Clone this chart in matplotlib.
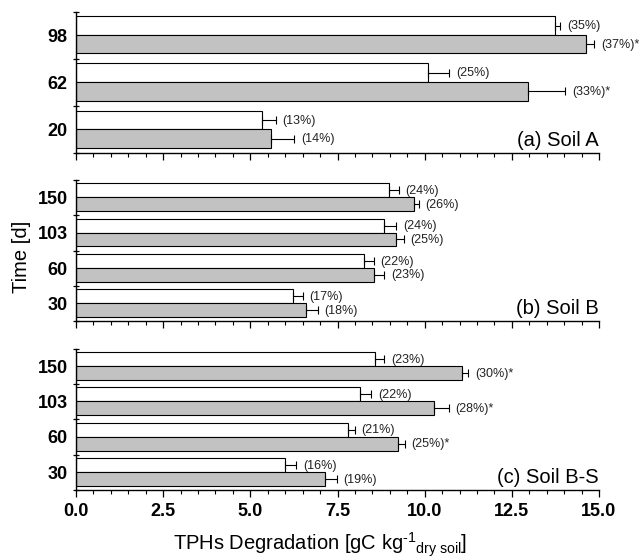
import matplotlib
matplotlib.use("Agg")
import matplotlib.pyplot as plt
from matplotlib.ticker import MultipleLocator, FixedLocator, NullFormatter
import numpy as np

plt.rcParams['font.family'] = ['Liberation Sans', 'DejaVu Sans']
plt.rcParams['mathtext.fontset'] = 'custom'
plt.rcParams['mathtext.rm'] = 'Liberation Sans'
plt.rcParams['mathtext.it'] = 'Liberation Sans:italic'
plt.rcParams['mathtext.bf'] = 'Liberation Sans:bold'

# ---------------- data ----------------
# Soil A
a_times = ["20", "62", "98"]
a_white = [5.34, 10.10, 13.74]
a_white_err = [0.39, 0.61, 0.15]
a_grey = [5.60, 12.96, 14.62]
a_grey_err = [0.66, 1.06, 0.24]
a_white_lbl = ["(13%)", "(25%)", "(35%)"]
a_grey_lbl = ["(14%)", "(33%)*", "(37%)*"]

# Soil B
b_times = ["30", "60", "103", "150"]
b_white = [6.23, 8.25, 8.83, 8.99]
b_white_err = [0.27, 0.29, 0.35, 0.26]
b_grey = [6.59, 8.55, 9.19, 9.69]
b_grey_err = [0.34, 0.28, 0.21, 0.14]
b_white_lbl = ["(17%)", "(22%)", "(24%)", "(24%)"]
b_grey_lbl = ["(18%)", "(23%)", "(25%)", "(26%)"]

# Soil B-S
c_times = ["30", "60", "103", "150"]
c_white = [5.99, 7.79, 8.14, 8.57]
c_white_err = [0.33, 0.20, 0.32, 0.26]
c_grey = [7.13, 9.24, 10.28, 11.08]
c_grey_err = [0.35, 0.19, 0.41, 0.17]
c_white_lbl = ["(16%)", "(21%)", "(22%)", "(23%)"]
c_grey_lbl = ["(19%)", "(25%)*", "(28%)*", "(30%)*"]

panel_titles = ["(a) Soil A", "(b) Soil B", "(c) Soil B-S"]
x_ticks = [0.0, 2.5, 5.0, 7.5, 10.0, 12.5, 15.0]

GREY = '#c2c2c2'
W, H = 642, 560
fig = plt.figure(figsize=(W / 100, H / 100), dpi=100)

left = 76 / W
width = 523 / W
rects = [
    (left, 1 - 153.3 / H, width, 141.6 / H),
    (left, 1 - 321.0 / H, width, 141.0 / H),
    (left, 1 - 490.0 / H, width, 141.5 / H),
]

panels = [
    (a_times, a_white, a_white_err, a_grey, a_grey_err, a_white_lbl, a_grey_lbl),
    (b_times, b_white, b_white_err, b_grey, b_grey_err, b_white_lbl, b_grey_lbl),
    (c_times, c_white, c_white_err, c_grey, c_grey_err, c_white_lbl, c_grey_lbl),
]

bh = 0.395
mid = 0.51

for i, (rect, pdata, title) in enumerate(zip(rects, panels, panel_titles)):
    times, wv, we, gv, ge, wl, gl = pdata
    ax = fig.add_axes(rect)
    n = len(times)
    pos = np.arange(n)
    yw = pos + mid + bh / 2
    yg = pos + mid - bh / 2
    ax.barh(yw, wv, height=bh, color='white', edgecolor='black', linewidth=0.8, zorder=2)
    ax.barh(yg, gv, height=bh, color=GREY, edgecolor='black', linewidth=0.8, zorder=2)
    ax.errorbar(wv, yw, xerr=[np.zeros(n), we], fmt='none', ecolor='black',
                elinewidth=0.8, capsize=3, capthick=0.8, zorder=3)
    ax.errorbar(gv, yg, xerr=[np.zeros(n), ge], fmt='none', ecolor='black',
                elinewidth=0.8, capsize=3, capthick=0.8, zorder=3)
    for k in range(n):
        ax.annotate(wl[k], xy=(wv[k] + we[k], yw[k]), xytext=(5, -0.5),
                    textcoords='offset points', ha='left', va='center',
                    fontsize=9, color='#222222', annotation_clip=False)
        ax.annotate(gl[k], xy=(gv[k] + ge[k], yg[k]), xytext=(5, -0.5),
                    textcoords='offset points', ha='left', va='center',
                    fontsize=9, color='#222222', annotation_clip=False)

    ax.set_xlim(0, 15)
    ax.set_ylim(0, n)
    for s in ['top', 'right']:
        ax.spines[s].set_visible(False)
    for s in ['left', 'bottom']:
        ax.spines[s].set_linewidth(1.0)

    # y: boundary ticks (major), labels at group centers (minor)
    ax.yaxis.set_major_locator(FixedLocator(np.arange(0, n + 1)))
    ax.yaxis.set_major_formatter(NullFormatter())
    ax.yaxis.set_minor_locator(FixedLocator(pos + 0.5))
    ax.set_yticklabels(times, minor=True)
    ax.tick_params(axis='y', which='major', direction='inout', length=5, width=0.9)
    ax.tick_params(axis='y', which='minor', length=0, pad=6,
                   labelsize=13)
    for t in ax.get_yticklabels(minor=True):
        t.set_fontweight('bold')

    ax.xaxis.set_major_locator(FixedLocator(x_ticks))
    ax.xaxis.set_minor_locator(MultipleLocator(0.5))
    ax.tick_params(axis='x', which='major', direction='out', length=5.2, width=0.9,
                   pad=4, labelsize=13)
    ax.tick_params(axis='x', which='minor', direction='out', length=3, width=0.8)
    if i < 2:
        ax.set_xticklabels([])
    else:
        ax.set_xticklabels([f"{v:.1f}" for v in x_ticks])
        for t in ax.get_xticklabels():
            t.set_fontweight('bold')

    ax.text(1.0, 7 / (rect[3] * H), title, transform=ax.transAxes,
            ha='right', va='baseline', fontsize=14.5)

fig.text(21.5 / W, 1 - 256.5 / H, 'Time [d]', rotation=90, ha='center', va='center',
         fontsize=14.5)
fig.text(173 / W, 1 - 550.7 / H,
         r'TPHs Degradation [gC kg$^{\text{-1}}$$_{\text{dry soil}}$]',
         ha='left', va='baseline', fontsize=14.5)

fig.savefig('out.png', dpi=100)
